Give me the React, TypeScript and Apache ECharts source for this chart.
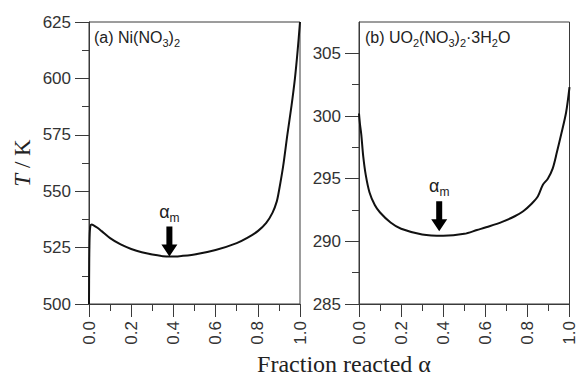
import React, { useEffect, useRef } from "react";
import * as echarts from "echarts";

// ---- Data ----
const alphaA = [0, 0.001, 0.003, 0.006, 0.012, 0.02, 0.04, 0.06, 0.1, 0.15, 0.2, 0.25, 0.3, 0.35, 0.38, 0.42, 0.5, 0.6, 0.7, 0.75, 0.8, 0.84, 0.87, 0.89, 0.9, 0.92, 0.94, 0.96, 0.976, 0.989, 1.0];
const tempA = [500, 518, 530, 534.2, 535.2, 535, 533.8, 532.3, 529.2, 526.4, 524.4, 522.9, 521.9, 521.2, 521.0, 521.1, 521.9, 523.9, 527.0, 529.3, 532.3, 536.0, 540.5, 545.5, 550, 561, 575, 588, 600, 612.5, 625];

const alphaB = [0, 0.005, 0.011, 0.02, 0.032, 0.05, 0.075, 0.1, 0.15, 0.2, 0.3, 0.4, 0.5, 0.56, 0.62, 0.68, 0.74, 0.78, 0.82, 0.85, 0.873, 0.897, 0.92, 0.94, 0.96, 0.984, 1.0];
const tempB = [300.2, 299.3, 298.5, 296.8, 295.3, 293.9, 292.9, 292.3, 291.5, 291.0, 290.55, 290.45, 290.6, 290.9, 291.2, 291.55, 292.0, 292.4, 293.0, 293.6, 294.5, 295.0, 295.8, 297.1, 298.5, 300.3, 302.3];

const xTicks = [0, 0.2, 0.4, 0.6, 0.8, 1.0];
const yTicksA = [500, 525, 550, 575, 600, 625];
const yTicksB = [285, 290, 295, 300, 305];
const yMinorB = [287.5, 292.5, 297.5, 302.5];

// arrow annotation positions (data coordinates) for alpha_m
const arrowA = [0.381, 527.7];
const arrowB = [0.381, 292.0];

const SANS = "'Liberation Sans', Arial, Helvetica, sans-serif";
const SERIF = "'Liberation Serif', 'Times New Roman', serif";
const AXIS_COLOR = "#3a3a3a";
const LABEL_COLOR = "#333";
const ARROW = "path://M5,0 L11,0 L11,18 L16,18 L8,30 L0,18 L5,18 Z";

const subRich = {
  n: { fontFamily: SANS, fontSize: 16, fontWeight: "normal", color: "#222", lineHeight: 22 },
  s: { fontFamily: SANS, fontSize: 11, fontWeight: "normal", color: "#222", lineHeight: 22, verticalAlign: "bottom" as const },
};

function markArrow(coord: number[]) {
  return {
    silent: true,
    animation: false,
    data: [
      {
        coord,
        symbol: ARROW,
        symbolSize: [16, 30],
        itemStyle: { color: "#000" },
        label: {
          show: true,
          position: "top",
          distance: 3,
          formatter: "{a|α}{m|m}",
          rich: {
            a: { fontFamily: SANS, fontSize: 18, color: "#222", lineHeight: 24 },
            m: { fontFamily: SANS, fontSize: 12, color: "#222", lineHeight: 24, verticalAlign: "bottom" as const },
          },
        },
      },
    ],
  };
}

function xAxisFor(gridIndex: number) {
  return {
    type: "value",
    gridIndex,
    min: 0,
    max: 1,
    interval: 0.2,
    axisLine: { show: true, lineStyle: { color: AXIS_COLOR, width: 1 } },
    axisTick: { show: true, length: 13, lineStyle: { color: AXIS_COLOR } },
    minorTick: { show: true, splitNumber: 2, length: 7, lineStyle: { color: AXIS_COLOR } },
    splitLine: { show: false },
    axisLabel: {
      rotate: 90,
      margin: 17,
      fontFamily: SANS,
      fontSize: 17,
      color: LABEL_COLOR,
      formatter: (v: number) => v.toFixed(1),
      customValues: xTicks,
    },
  };
}

const App: React.FC = () => {
  const ref = useRef<HTMLDivElement>(null);

  useEffect(() => {
    if (!ref.current) return;
    document.body.style.margin = "0";
    const chart = echarts.init(ref.current, undefined, { renderer: "svg" });

    const dataA = alphaA.map((a, i) => [a, tempA[i]]);
    const dataB = alphaB.map((a, i) => [a, tempB[i]]);

    const option: any = {
      animation: false,
      backgroundColor: "#fff",
      title: [
        {
          text: "{n|(a) Ni(NO}{s|3}{n|)}{s|2}",
          left: 94,
          top: 26,
          padding: 0,
          textStyle: { fontWeight: "normal", rich: subRich },
        },
        {
          text: "{n|(b) UO}{s|2}{n|(NO}{s|3}{n|)}{s|2}{n|·3H}{s|2}{n|O}",
          left: 365,
          top: 26,
          padding: 0,
          textStyle: { fontWeight: "normal", rich: subRich },
        },
      ],
      grid: [
        { left: 89, top: 22, width: 211, height: 282, show: true, borderColor: AXIS_COLOR, borderWidth: 1, backgroundColor: "transparent" },
        { left: 359, top: 22, width: 211, height: 282, show: true, borderColor: AXIS_COLOR, borderWidth: 1, backgroundColor: "transparent" },
      ],
      xAxis: [xAxisFor(0), xAxisFor(1)],
      yAxis: [
        {
          type: "value",
          gridIndex: 0,
          min: 500,
          max: 625,
          interval: 25,
          name: "{i|T}{r| / K}",
          nameLocation: "middle",
          nameRotate: 90,
          nameGap: 55,
          nameTextStyle: {
            rich: {
              i: { fontFamily: SERIF, fontSize: 23, fontStyle: "italic", color: "#222" },
              r: { fontFamily: SERIF, fontSize: 23, color: "#222" },
            },
          },
          axisLine: { show: true, lineStyle: { color: AXIS_COLOR, width: 1 } },
          axisTick: { show: true, length: 14, lineStyle: { color: AXIS_COLOR } },
          minorTick: { show: true, splitNumber: 2, length: 7, lineStyle: { color: AXIS_COLOR } },
          splitLine: { show: false },
          axisLabel: { margin: 18, fontFamily: SANS, fontSize: 17, color: LABEL_COLOR, customValues: yTicksA },
        },
        {
          type: "value",
          gridIndex: 1,
          min: 285,
          max: 307.5,
          axisLine: { show: true, lineStyle: { color: AXIS_COLOR, width: 1 } },
          axisTick: { show: true, length: 14, lineStyle: { color: AXIS_COLOR }, customValues: yTicksB },
          splitLine: { show: false },
          axisLabel: { margin: 18, fontFamily: SANS, fontSize: 17, color: LABEL_COLOR, customValues: yTicksB },
        },
        {
          type: "value",
          gridIndex: 1,
          position: "left",
          min: 285,
          max: 307.5,
          axisLine: { show: false },
          axisTick: { show: true, length: 7, lineStyle: { color: AXIS_COLOR }, customValues: yMinorB },
          splitLine: { show: false },
          axisLabel: { show: false },
        },
      ],
      series: [
        {
          type: "line",
          xAxisIndex: 0,
          yAxisIndex: 0,
          data: dataA,
          showSymbol: false,
          smooth: 0.3,
          lineStyle: { color: "#111", width: 2 },
          markPoint: markArrow(arrowA),
        },
        {
          type: "line",
          xAxisIndex: 1,
          yAxisIndex: 1,
          data: dataB,
          showSymbol: false,
          smooth: 0.3,
          lineStyle: { color: "#111", width: 2 },
          markPoint: markArrow(arrowB),
        },
      ],
      graphic: [
        {
          type: "text",
          x: 344,
          y: 364,
          style: {
            text: "Fraction reacted α",
            fontFamily: SERIF,
            fontSize: 24,
            fill: "#222",
            align: "center",
            verticalAlign: "middle",
          },
        },
      ],
    };

    chart.setOption(option);
    return () => chart.dispose();
  }, []);

  return <div ref={ref} style={{ width: 578, height: 380 }} />;
};

export default App;
